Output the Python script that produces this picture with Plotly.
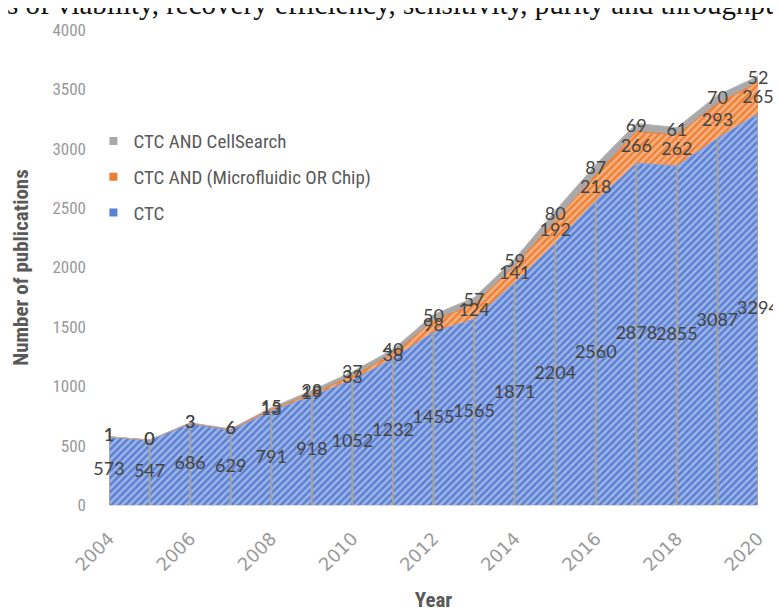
import plotly.graph_objects as go

# ---- data ----
years = list(range(2004, 2021))
ctc = [573, 547, 686, 629, 791, 918, 1052, 1232, 1455, 1565, 1871, 2204, 2560, 2878, 2855, 3087, 3294]
microfluidic = [1, 0, 3, 6, 13, 19, 33, 38, 98, 124, 141, 192, 218, 266, 262, 293, 265]
cellsearch = [1, 0, 3, 6, 15, 28, 37, 40, 50, 57, 59, 80, 87, 69, 61, 70, 52]

series_names = ["CTC", "CTC AND (Microfluidic OR Chip)", "CTC AND CellSearch"]
x_ticks = [2004, 2006, 2008, 2010, 2012, 2014, 2016, 2018, 2020]
y_ticks = [0, 500, 1000, 1500, 2000, 2500, 3000, 3500, 4000]

# ---- styles ----
NARROW = "Liberation Sans Narrow, Arial Narrow, Roboto Condensed, DejaVu Sans Condensed, sans-serif"
LABELFONT = "Lato, Carlito, Open Sans, sans-serif"
BLUE = "#5a80d4"
ORANGE = "#ed7d31"
GREY = "#a9a9a9"

fig = go.Figure()

# stacked areas
fig.add_trace(go.Scatter(
    x=years, y=ctc, stackgroup="one", mode="lines", name=series_names[0],
    line=dict(width=1, color="#7da0e6"),
    fillpattern=dict(shape="/", bgcolor=BLUE, fgcolor="#e3eaf8", size=5, solidity=0.5),
    showlegend=False, hoverinfo="skip"))
fig.add_trace(go.Scatter(
    x=years, y=microfluidic, stackgroup="one", mode="lines", name=series_names[1],
    line=dict(width=1, color=ORANGE),
    fillpattern=dict(shape="/", bgcolor=ORANGE, fgcolor="#fde3d0", size=5, solidity=0.55),
    showlegend=False, hoverinfo="skip"))
fig.add_trace(go.Scatter(
    x=years, y=cellsearch, stackgroup="one", mode="lines", name=series_names[2],
    line=dict(width=1, color="#b4b4b4"),
    fillcolor=GREY,
    showlegend=False, hoverinfo="skip"))

# drop lines from axis to the CTC values
dx, dy = [], []
for yr, c in zip(years, ctc):
    dx += [yr, yr, None]
    dy += [0, c, None]
fig.add_trace(go.Scatter(x=dx, y=dy, mode="lines", line=dict(color="#a3a3a3", width=2),
                         showlegend=False, hoverinfo="skip"))

# data labels at segment middles
ctc_mid = [c / 2 for c in ctc]
mic_mid = [c + m / 2 for c, m in zip(ctc, microfluidic)]
cel_mid = [c + m + s / 2 for c, m, s in zip(ctc, microfluidic, cellsearch)]
for mids, vals in [(ctc_mid, ctc), (mic_mid, microfluidic), (cel_mid, cellsearch)]:
    fig.add_trace(go.Scatter(
        x=years, y=mids, mode="text", text=[str(v) for v in vals],
        textposition="middle center", cliponaxis=False,
        textfont=dict(family=LABELFONT, size=18, color="#454545"),
        showlegend=False, hoverinfo="skip"))

# legend entries (small squares, as in the reference)
for nm, col in [(series_names[2], GREY), (series_names[1], ORANGE), (series_names[0], BLUE)]:
    fig.add_trace(go.Scatter(x=[None], y=[None], mode="markers", name=nm, legendgroup=nm,
                             marker=dict(symbol="square", size=8, color=col)))

# clipped caption line above the figure
fig.add_annotation(
    text="s of viability, recovery efficiency, sensitivity, purity and throughput",
    xref="paper", yref="paper", x=-0.160, y=1.0165, xanchor="left", yanchor="bottom",
    showarrow=False, font=dict(family="Liberation Serif, serif", size=29, color="#111111"))

fig.update_layout(
    width=781, height=612,
    margin=dict(l=95, r=31, t=17, b=108),
    paper_bgcolor="white", plot_bgcolor="white",
    showlegend=True,
    legend=dict(x=-0.024, y=0.806, xanchor="left", yanchor="top",
                traceorder="grouped", tracegroupgap=8,
                font=dict(family=NARROW, size=19, color="#595959"),
                bgcolor="rgba(0,0,0,0)"),
    xaxis=dict(range=[2004, 2020], tickvals=x_ticks, ticktext=[str(t) for t in x_ticks],
               tickangle=-45, showgrid=False, zeroline=False,
               showline=True, linecolor="#d9d9d9", linewidth=1,
               ticklabelstandoff=15,
               tickfont=dict(family="DejaVu Sans, sans-serif", size=18, color="#9a9a9a"),
               title=dict(text="<b>Year</b>", standoff=18,
                          font=dict(family=NARROW, size=21, color="#595959"))),
    yaxis=dict(range=[0, 4000], tickvals=y_ticks, showgrid=False, zeroline=False,
               showline=False, ticklabelstandoff=22,
               tickfont=dict(family=NARROW, size=17, color="#999999"),
               title=dict(text="<b>Number of publications</b>", standoff=18,
                          font=dict(family=NARROW, size=21, color="#595959"))),
)

fig.write_html("out.html")
